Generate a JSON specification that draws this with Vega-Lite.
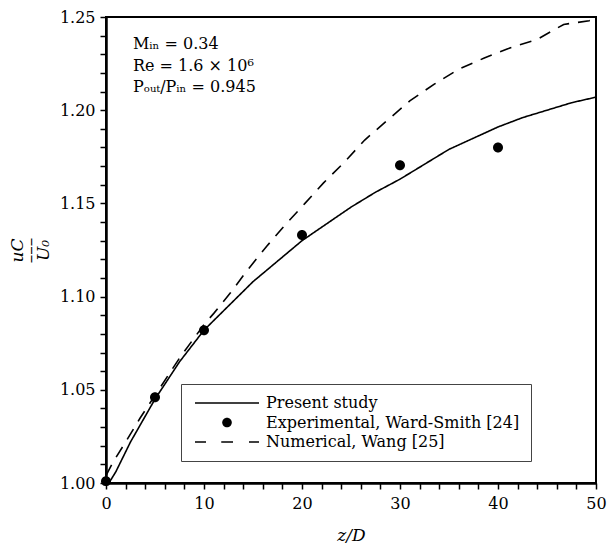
{
  "$schema": "https://vega.github.io/schema/vega-lite/v6.json",
  "width": 490,
  "height": 466,
  "autosize": {"type": "none"},
  "padding": {"left": 106, "top": 17, "right": 18, "bottom": 62},
  "background": "white",
  "config": {
    "font": "DejaVu Serif",
    "view": {"stroke": "black", "strokeWidth": 2},
    "axis": {
      "domainColor": "black", "domainWidth": 2.5, "ticks": true,
      "labelFont": "DejaVu Serif", "labelFontSize": 16, "labelColor": "black",
      "titleFont": "DejaVu Serif", "titleColor": "black", "titleFontWeight": "normal",
      "grid": false, "labelOverlap": false, "labelFlush": false
    }
  },
  "datasets": {
    "curves": [
      {"series": "Present study", "z": 0.3, "u": 1.000},
      {"series": "Present study", "z": 1.0, "u": 1.006},
      {"series": "Present study", "z": 2.5, "u": 1.022},
      {"series": "Present study", "z": 5.0, "u": 1.045},
      {"series": "Present study", "z": 7.5, "u": 1.065},
      {"series": "Present study", "z": 10.0, "u": 1.082},
      {"series": "Present study", "z": 12.5, "u": 1.095},
      {"series": "Present study", "z": 15.0, "u": 1.108},
      {"series": "Present study", "z": 17.5, "u": 1.119},
      {"series": "Present study", "z": 20.0, "u": 1.130},
      {"series": "Present study", "z": 22.5, "u": 1.139},
      {"series": "Present study", "z": 25.0, "u": 1.148},
      {"series": "Present study", "z": 27.5, "u": 1.156},
      {"series": "Present study", "z": 30.0, "u": 1.163},
      {"series": "Present study", "z": 32.5, "u": 1.171},
      {"series": "Present study", "z": 35.0, "u": 1.179},
      {"series": "Present study", "z": 37.5, "u": 1.185},
      {"series": "Present study", "z": 40.0, "u": 1.191},
      {"series": "Present study", "z": 42.5, "u": 1.196},
      {"series": "Present study", "z": 45.0, "u": 1.200},
      {"series": "Present study", "z": 47.5, "u": 1.204},
      {"series": "Present study", "z": 50.0, "u": 1.207},
      {"series": "Numerical, Wang [25]", "z": 0.0, "u": 1.004},
      {"series": "Numerical, Wang [25]", "z": 0.7, "u": 1.011},
      {"series": "Numerical, Wang [25]", "z": 2.0, "u": 1.022},
      {"series": "Numerical, Wang [25]", "z": 3.5, "u": 1.035},
      {"series": "Numerical, Wang [25]", "z": 5.0, "u": 1.047},
      {"series": "Numerical, Wang [25]", "z": 7.5, "u": 1.067},
      {"series": "Numerical, Wang [25]", "z": 10.0, "u": 1.085},
      {"series": "Numerical, Wang [25]", "z": 11.0, "u": 1.091},
      {"series": "Numerical, Wang [25]", "z": 12.7, "u": 1.102},
      {"series": "Numerical, Wang [25]", "z": 14.4, "u": 1.114},
      {"series": "Numerical, Wang [25]", "z": 16.4, "u": 1.127},
      {"series": "Numerical, Wang [25]", "z": 18.2, "u": 1.138},
      {"series": "Numerical, Wang [25]", "z": 20.3, "u": 1.150},
      {"series": "Numerical, Wang [25]", "z": 22.2, "u": 1.161},
      {"series": "Numerical, Wang [25]", "z": 24.3, "u": 1.172},
      {"series": "Numerical, Wang [25]", "z": 26.4, "u": 1.184},
      {"series": "Numerical, Wang [25]", "z": 28.8, "u": 1.195},
      {"series": "Numerical, Wang [25]", "z": 31.0, "u": 1.205},
      {"series": "Numerical, Wang [25]", "z": 33.5, "u": 1.214},
      {"series": "Numerical, Wang [25]", "z": 36.0, "u": 1.222},
      {"series": "Numerical, Wang [25]", "z": 38.6, "u": 1.228},
      {"series": "Numerical, Wang [25]", "z": 41.0, "u": 1.233},
      {"series": "Numerical, Wang [25]", "z": 44.0, "u": 1.238},
      {"series": "Numerical, Wang [25]", "z": 46.7, "u": 1.246},
      {"series": "Numerical, Wang [25]", "z": 49.3, "u": 1.248},
      {"series": "Numerical, Wang [25]", "z": 50.0, "u": 1.250}
    ],
    "experiment": [
      {"series": "Experimental, Ward-Smith [24]", "z": 0, "u": 1.001},
      {"series": "Experimental, Ward-Smith [24]", "z": 5, "u": 1.046},
      {"series": "Experimental, Ward-Smith [24]", "z": 10, "u": 1.082},
      {"series": "Experimental, Ward-Smith [24]", "z": 20, "u": 1.133},
      {"series": "Experimental, Ward-Smith [24]", "z": 30, "u": 1.1705},
      {"series": "Experimental, Ward-Smith [24]", "z": 40, "u": 1.180}
    ]
  },
  "layer": [
    {
      "data": {"name": "curves"},
      "mark": {"type": "line", "color": "black", "strokeWidth": 1.6, "clip": true},
      "encoding": {
        "x": {
          "field": "z", "type": "quantitative",
          "scale": {"domain": [0, 50], "nice": false, "zero": false},
          "axis": {
            "title": "z/D", "titleFontStyle": "italic", "titleFontSize": 17, "titlePadding": 16,
            "values": [0,2,4,6,8,10,12,14,16,18,20,22,24,26,28,30,32,34,36,38,40,42,44,46,48,50],
            "tickCount": 200,
            "labelExpr": "datum.value % 10 === 0 ? format(datum.value, 'd') : ''",
            "labelOverlap": false,
            "labelPadding": 6,
            "ticks": true,
            "tickSize": 6,
            "tickColor": "black",
            "tickWidth": 1.5,
            "tickOpacity": 1,
            "encode": {"ticks": {"update": {
              "y2": {"signal": "datum.value % 10 === 0 ? 6 : 3"},
              "stroke": {"value": "black"},
              "strokeWidth": {"signal": "datum.value % 10 === 0 ? 2 : 1"},
              "opacity": {"value": 1},
              "strokeOpacity": {"value": 1}
            }}}
          }
        },
        "y": {
          "field": "u", "type": "quantitative",
          "scale": {"domain": [1.0, 1.25], "nice": false, "zero": false},
          "axis": {
            "title": ["uC", "–––", "U₀"], "titleFontStyle": "italic", "titleFontSize": 17, "titleLineHeight": 13, "titlePadding": 7,
            "values": [1.0,1.01,1.02,1.03,1.04,1.05,1.06,1.07,1.08,1.09,1.1,1.11,1.12,1.13,1.14,1.15,1.16,1.17,1.18,1.19,1.2,1.21,1.22,1.23,1.24,1.25],
            "tickCount": 200,
            "labelExpr": "abs(datum.value*20 - round(datum.value*20)) < 0.001 ? format(datum.value, '.2f') : ''",
            "labelOverlap": false,
            "labelPadding": 5,
            "ticks": true,
            "tickSize": 6,
            "tickColor": "black",
            "tickWidth": 1.5,
            "tickOpacity": 1,
            "encode": {"ticks": {"update": {
              "x2": {"signal": "abs(datum.value*20 - round(datum.value*20)) < 0.001 ? -6 : -3"},
              "stroke": {"value": "black"},
              "strokeWidth": {"signal": "abs(datum.value*20 - round(datum.value*20)) < 0.001 ? 2 : 1"},
              "opacity": {"value": 1},
              "strokeOpacity": {"value": 1}
            }}}
          }
        },
        "strokeDash": {
          "field": "series", "type": "nominal",
          "scale": {"domain": ["Present study", "Numerical, Wang [25]"], "range": [[1, 0], [12, 9]]},
          "legend": null
        }
      }
    },
    {
      "data": {"name": "experiment"},
      "mark": {"type": "point", "filled": true, "color": "black", "opacity": 1, "size": 108, "strokeWidth": 0},
      "encoding": {
        "x": {"field": "z", "type": "quantitative"},
        "y": {"field": "u", "type": "quantitative"},
        "shape": {
          "field": "series", "type": "nominal",
          "scale": {
            "domain": ["Present study", "Experimental, Ward-Smith [24]", "Numerical, Wang [25]"],
            "range": [
              "M-6.4,-0.16H6.4V0.16H-6.4Z",
              "M-0.96,0A0.96,0.96,0,1,1,0.96,0A0.96,0.96,0,1,1,-0.96,0Z",
              "M-6.4,-0.16H-4.2V0.16H-6.4ZM-1.15,-0.16H1.2V0.16H-1.15ZM4.4,-0.16H6.4V0.16H4.4Z"
            ]
          },
          "legend": {
            "title": null, "orient": "none", "legendX": 75, "legendY": 367,
            "padding": 11, "strokeColor": "#444", "fillColor": "white",
            "labelFont": "DejaVu Serif", "labelFontSize": 16, "labelColor": "black", "labelLimit": 400,
            "labelOffset": 31, "symbolOffset": 27, "symbolSize": 100, "rowPadding": 3.5,
            "symbolStrokeWidth": 0, "symbolFillColor": "black",
            "encode": {"symbols": {"update": {"fill": {"value": "black"}, "strokeWidth": {"value": 0}, "opacity": {"value": 1}}}}
          }
        }
      }
    },
    {
      "data": {"values": [{}]},
      "mark": {
        "type": "text", "align": "left", "baseline": "alphabetic",
        "font": "DejaVu Serif", "fontSize": 16, "lineHeight": 21.5, "color": "black",
        "text": ["Mᵢₙ = 0.34", "Re = 1.6 × 10⁶", "Pₒᵤₜ/Pᵢₙ = 0.945"]
      },
      "encoding": {
        "x": {"datum": 2.75},
        "y": {"datum": 1.2328}
      }
    }
  ]
}
